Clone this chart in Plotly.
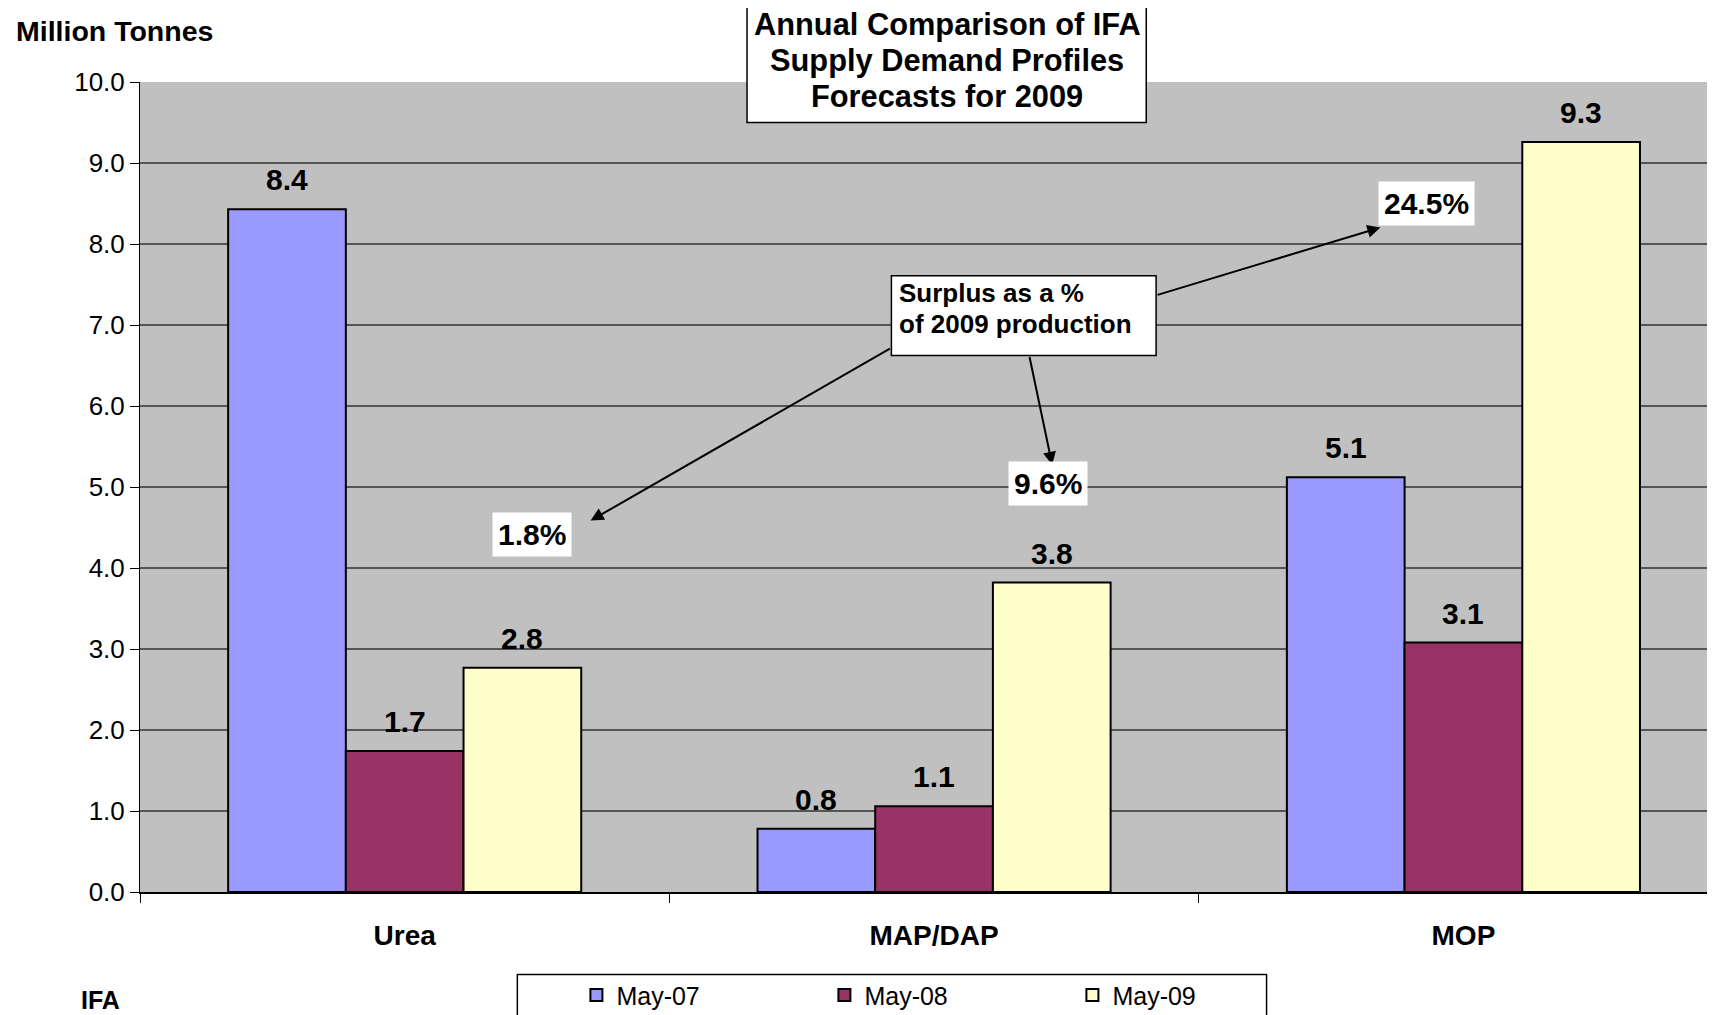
import plotly.graph_objects as go

# ---- data ----
categories = ["Urea", "MAP/DAP", "MOP"]
series_names = ["May-07", "May-08", "May-09"]
may07 = [8.43, 0.78, 5.12]
may08 = [1.74, 1.06, 3.08]
may09 = [2.77, 3.82, 9.26]
colors = ["#9999FF", "#993366", "#FFFFCC"]
surplus_labels = ["1.8%", "9.6%", "24.5%"]
y_ticks = [0, 1, 2, 3, 4, 5, 6, 7, 8, 9, 10]

# ---- geometry helpers (reference pixel coords -> paper coords) ----
OFF = 8                     # page body margin of the html page
W, H = 1715 - OFF, 1015 - OFF
S = 1715 / 1568.0
ML, MR, MT = 132, 0, 74
PH = 810
MB = H - MT - PH
PW = W - ML - MR
CAT_PX = 484 * S            # width of one category slot in pixels
X_RANGE = [-0.5, -0.5 + PW / CAT_PX]
BARGAP = 0.333


def px(x):
    return (x * S - OFF - ML) / PW


def py(y):
    return (H - MB - (y * S - OFF)) / PH


FONT = "Liberation Sans, Arial, sans-serif"

fig = go.Figure()
for name, vals, col in zip(series_names, [may07, may08, may09], colors):
    fig.add_trace(go.Bar(
        x=categories, y=vals, name=name,
        marker=dict(color=col, line=dict(color="black", width=2)),
    ))

annotations = []
shapes = []

# data labels, placed through the axes from the data
bar_w = CAT_PX * (1 - BARGAP) / 3
for i, vals in enumerate([may07, may08, may09]):
    for c, v in zip(categories, vals):
        annotations.append(dict(text=f"{v:.1f}", xref="x", yref="y", x=c, y=v,
                                xshift=(i - 1) * bar_w, yshift=11,
                                xanchor="center", yanchor="bottom", showarrow=False,
                                font=dict(family=FONT, size=30, color="black", weight="bold")))

# title box
shapes.append(dict(type="rect", xref="paper", yref="paper",
                   x0=px(683), x1=px(1048), y0=py(112), y1=py(-10),
                   fillcolor="white", line=dict(color="black", width=1.5), layer="above"))
for txt, yy in zip(["Annual Comparison of IFA", "Supply Demand Profiles", "Forecasts for 2009"], [22, 55, 88]):
    annotations.append(dict(text=txt, xref="paper", yref="paper", x=px(866), y=py(yy),
                            xanchor="center", yanchor="middle", showarrow=False,
                            font=dict(family=FONT, size=30.8, color="black", weight="bold")))

# y axis title
annotations.append(dict(text="Million Tonnes", xref="paper", yref="paper", x=px(13), y=py(28),
                        xanchor="left", yanchor="middle", showarrow=False,
                        font=dict(family=FONT, size=28.5, color="black", weight="bold")))
# source
annotations.append(dict(text="IFA", xref="paper", yref="paper", x=px(72), y=py(914),
                        xanchor="left", yanchor="middle", showarrow=False,
                        font=dict(family=FONT, size=25, color="black", weight="bold")))

# arrows (head position, tail offsets in pixels)
arrows = [((1262, 208), (1057, 270)), ((540, 476), (815, 318)), ((962, 425), (941, 325))]
for (hx, hy), (tx, ty) in arrows:
    annotations.append(dict(text="", xref="paper", yref="paper", x=px(hx), y=py(hy),
                            axref="pixel", ayref="pixel", ax=(tx - hx) * S, ay=(ty - hy) * S,
                            showarrow=True, arrowhead=2, arrowsize=1.3, arrowwidth=2,
                            arrowcolor="black", standoff=0))

# surplus box
shapes.append(dict(type="rect", xref="paper", yref="paper",
                   x0=px(815), x1=px(1057), y0=py(325), y1=py(252),
                   fillcolor="white", line=dict(color="black", width=1.5), layer="above"))
for txt, yy in zip(["Surplus as a %", "of 2009 production"], [268, 296]):
    annotations.append(dict(text=txt, xref="paper", yref="paper", x=px(820), y=py(yy),
                            xanchor="left", yanchor="middle", showarrow=False,
                            font=dict(family=FONT, size=26, color="black", weight="bold")))

# surplus percentages
for txt, (cx, cy) in zip(surplus_labels, [(486, 489), (958, 442), (1304, 186)]):
    annotations.append(dict(text=txt, xref="paper", yref="paper", x=px(cx), y=py(cy),
                            xanchor="center", yanchor="middle", showarrow=False,
                            bgcolor="white", borderpad=5,
                            font=dict(family=FONT, size=30, color="black", weight="bold")))

# legend box
shapes.append(dict(type="rect", xref="paper", yref="paper",
                   x0=px(473), x1=px(1158), y0=py(945), y1=py(891),
                   fillcolor="white", line=dict(color="black", width=1.5), layer="below"))

fig.update_layout(
    width=W, height=H,
    margin=dict(l=ML, r=MR, t=MT, b=MB, pad=0, autoexpand=False),
    paper_bgcolor="white", plot_bgcolor="#C0C0C0",
    barmode="group", bargap=BARGAP, bargroupgap=0,
    font=dict(family=FONT, color="black"),
    showlegend=True,
    legend=dict(orientation="h", x=px(527), y=py(910), xanchor="left", yanchor="middle",
                bgcolor="rgba(0,0,0,0)", borderwidth=0,
                entrywidth=203, entrywidthmode="pixels",
                font=dict(family=FONT, size=25, color="black")),
    annotations=annotations, shapes=shapes,
    xaxis=dict(type="category", range=X_RANGE, showgrid=False,
               showline=True, linecolor="black", linewidth=2,
               ticks="outside", tickson="boundaries", ticklen=9, tickcolor="black",
               ticklabelstandoff=17,
               tickfont=dict(family=FONT, size=28, color="black", weight="bold")),
    yaxis=dict(range=[0, 10], tickvals=y_ticks, tickformat=".1f",
               showgrid=True, gridcolor="#555555", gridwidth=1.5,
               zeroline=False, showline=True, linecolor="black", linewidth=1,
               ticks="outside", ticklen=9, tickcolor="black",
               tickfont=dict(family=FONT, size=26, color="black")),
)

fig.write_html("out.html")
